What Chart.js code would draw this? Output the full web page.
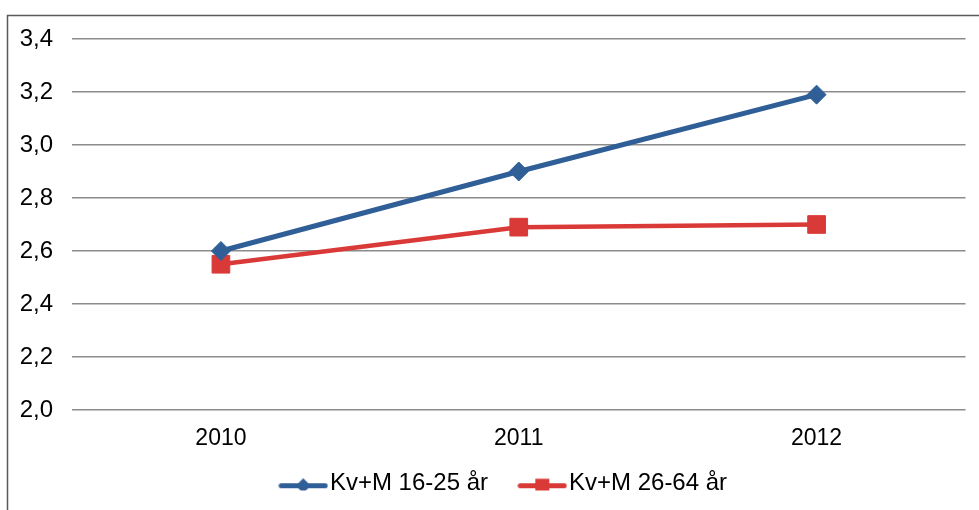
<!DOCTYPE html>
<html>
<head>
<meta charset="utf-8">
<script src="https://cdn.jsdelivr.net/npm/chart.js@4/dist/chart.umd.min.js"></script>
<style>
  html, body { margin: 0; padding: 0; background: #ffffff; }
  canvas { display: block; }
</style>
</head>
<body>
<canvas id="c" width="979" height="510"></canvas>
<script>
const categories = ['2010', '2011', '2012'];
const seriesNames = ['Kv+M 16-25 år', 'Kv+M 26-64 år'];
const youngValues = [2.60, 2.90, 3.19];
const adultValues = [2.55, 2.69, 2.70];
const yTickMin = 2.0;
const yTickMax = 3.4;
const yTickStep = 0.2;

const BLUE = 'rgb(47,95,150)';
const RED = 'rgb(218,58,55)';
const FONT = "'Liberation Sans', Arial, sans-serif";

function legendIcon(color, shape) {
  const c = document.createElement('canvas');
  c.width = 50; c.height = 34;
  const g = c.getContext('2d');
  const cy = 19.5;
  g.strokeStyle = color; g.lineWidth = 5; g.lineCap = 'round';
  g.beginPath(); g.moveTo(3, cy); g.lineTo(47, cy); g.stroke();
  g.fillStyle = color;
  g.beginPath();
  if (shape === 'diamond') {
    g.moveTo(25, cy - 7.5); g.lineTo(32.5, cy); g.lineTo(25, cy + 7.5); g.lineTo(17.5, cy);
  } else {
    g.rect(18, cy - 7, 14, 14);
  }
  g.closePath(); g.fill();
  return c;
}
const icons = [legendIcon(BLUE, 'diamond'), legendIcon(RED, 'square')];

const framePlugin = {
  id: 'frame',
  beforeDraw(chart) {
    const ctx = chart.ctx;
    ctx.save();
    ctx.strokeStyle = '#5a5a5a';
    ctx.lineWidth = 1.5;
    ctx.beginPath();
    ctx.moveTo(7.5, 600);
    ctx.lineTo(7.5, 15.5);
    ctx.lineTo(1000, 15.5);
    ctx.stroke();
    ctx.restore();
  }
};

// moves the legend box so it sits like in the original (layout only)
const legendPlace = {
  id: 'legendPlace',
  afterLayout(chart) {
    const lg = chart.legend;
    if (!lg) return;
    const dx = 18.8, dy = -19.4;
    lg.left += dx; lg.right += dx;
    lg.top += dy; lg.bottom += dy;
  }
};

new Chart(document.getElementById('c'), {
  type: 'line',
  data: {
    labels: categories,
    datasets: [
      {
        label: seriesNames[0],
        data: youngValues,
        borderColor: BLUE,
        backgroundColor: BLUE,
        borderWidth: 5,
        pointStyle: 'rectRot',
        pointRadius: 9.5,
        pointHoverRadius: 9.5,
        pointBorderWidth: 1,
        pointBackgroundColor: BLUE,
        pointBorderColor: BLUE,
        tension: 0
      },
      {
        label: seriesNames[1],
        data: adultValues,
        borderColor: RED,
        backgroundColor: RED,
        borderWidth: 4.5,
        pointStyle: 'rect',
        pointRadius: 12.5,
        pointHoverRadius: 12.5,
        pointBorderWidth: 1,
        pointBackgroundColor: RED,
        pointBorderColor: RED,
        tension: 0
      }
    ]
  },
  options: {
    responsive: false,
    animation: false,
    devicePixelRatio: 1,
    layout: { padding: { left: 10, right: 11, top: 39, bottom: 0 } },
    plugins: {
      tooltip: { enabled: false },
      legend: {
        position: 'bottom',
        maxHeight: 59,
        labels: {
          usePointStyle: true,
          pointStyleWidth: 29.4,
          padding: 39.6,
          color: '#000',
          font: { family: FONT, size: 24 },
          generateLabels(chart) {
            return chart.data.datasets.map((ds, i) => ({
              text: ds.label,
              pointStyle: icons[i],
              fillStyle: ds.borderColor,
              strokeStyle: ds.borderColor,
              lineWidth: 0,
              hidden: false,
              datasetIndex: i,
              fontColor: '#000'
            }));
          }
        }
      }
    },
    scales: {
      x: {
        offset: true,
        grid: { display: false, drawTicks: false },
        border: { display: false },
        ticks: { color: '#000', font: { family: FONT, size: 23 }, padding: 14.5, maxRotation: 0 },
        afterFit(s) { s.height = 41; }
      },
      y: {
        min: yTickMin,
        max: yTickMax,
        grid: { color: '#8c8c8c', lineWidth: 1.5, drawTicks: false },
        border: { display: false },
        ticks: {
          stepSize: yTickStep,
          color: '#000',
          font: { family: FONT, size: 24 },
          padding: 19,
          callback: v => Number(v).toFixed(1).replace('.', ',')
        },
        afterFit(s) { s.width = 62; }
      }
    }
  },
  plugins: [framePlugin, legendPlace]
});
</script>
</body>
</html>
